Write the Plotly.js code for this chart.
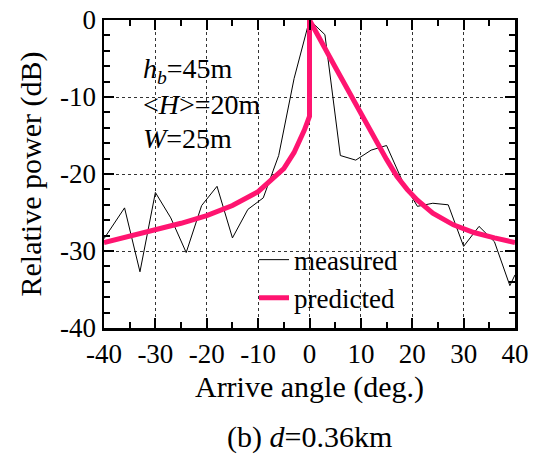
<!DOCTYPE html>
<html>
<head>
<meta charset="utf-8">
<script src="https://cdn.plot.ly/plotly-3.0.1.min.js"></script>
<style>html,body{margin:0;padding:0;background:#fff;}#chart{width:539px;height:454px;}</style>
</head>
<body>
<div id="chart"></div>
<script>
var measuredAngle = [-40,-36,-33,-30,-27,-24,-21,-18,-15,-12,-9,-6,-3,0,3,6,9,12,15,18,21,24,27,30,33,36,39,40];
var measuredPower = [-28.4,-24.4,-32.7,-22.4,-25.7,-30.2,-24.1,-21.6,-28.3,-24.6,-23.1,-17.6,-7.6,0,-1.9,-17.6,-18.2,-16.9,-16.3,-20.8,-24.2,-23.8,-24.0,-29.4,-26.8,-28.8,-34.5,-33.1];
var predictedAngle = [-40,-35,-30,-25,-20,-15,-10,-7,-5,-3,-2,-1,0,0,5,10,15,17,19,21,24,28,32,36,40];
var predictedPower = [-28.9,-28.1,-27.3,-26.4,-25.4,-24.1,-22.3,-20.6,-19.3,-17.2,-15.8,-14.3,-12.5,0,-6.1,-12.2,-18.1,-20.3,-22.0,-23.4,-25.1,-26.6,-27.6,-28.3,-28.9];
var xTicks = [-40,-30,-20,-10,0,10,20,30,40];
var yTicks = [0,-10,-20,-30,-40];

var FONT = '"Liberation Serif", "Times New Roman", serif';
var axisCommon = {
  showline: true, linecolor: '#000', linewidth: 2.5, mirror: 'allticks',
  ticks: 'inside', ticklen: 10, tickwidth: 2, tickcolor: '#000',
  showgrid: true, gridcolor: '#333', gridwidth: 1, griddash: 'dot',
  zeroline: false,
  tickfont: {family: FONT, size: 27, color: '#000'}
};

var traces = [
  {x: measuredAngle, y: measuredPower, type: 'scatter', mode: 'lines', name: 'measured',
   line: {color: '#000', width: 1}, legendgroup: 'a'},
  {x: predictedAngle, y: predictedPower, type: 'scatter', mode: 'lines', name: 'predicted',
   line: {color: '#ff1470', width: 5}, legendgroup: 'b'}
];

var layout = {
  width: 539, height: 454,
  margin: {l: 103.5, r: 24, t: 20, b: 126},
  paper_bgcolor: '#fff', plot_bgcolor: '#fff',
  font: {family: FONT, size: 26, color: '#000'},
  showlegend: true,
  legend: {x: 0.365, y: 0.3, xanchor: 'left', yanchor: 'top', bgcolor: 'rgba(0,0,0,0)',
    font: {family: FONT, size: 27, color: '#000'}, tracegroupgap: 0},
  xaxis: Object.assign({}, axisCommon, {
    range: [-40, 40], tickvals: xTicks, ticktext: xTicks.map(String),
    minor: {dtick: 5, ticks: 'inside', ticklen: 6, tickwidth: 2, tickcolor: '#000', showgrid: false},
    title: {text: 'Arrive angle (deg.)', font: {family: FONT, size: 30, color: '#000'}, standoff: 8}
  }),
  yaxis: Object.assign({}, axisCommon, {
    range: [-40, 0], tickvals: yTicks, ticktext: yTicks.map(String),
    minor: {dtick: 2, ticks: 'inside', ticklen: 6, tickwidth: 2, tickcolor: '#000', showgrid: false},
    title: {text: 'Relative power (dB)', font: {family: FONT, size: 30, color: '#000'}, standoff: 10}
  }),
  annotations: [
    {xref: 'paper', yref: 'paper', x: 0.09, y: 0.835, xanchor: 'left', yanchor: 'middle', showarrow: false,
     text: '<i>h</i><sub><i>b</i></sub>=45m', font: {family: FONT, size: 28, color: '#000'}},
    {xref: 'paper', yref: 'paper', x: 0.09, y: 0.725, xanchor: 'left', yanchor: 'middle', showarrow: false,
     text: '&lt;<i>H</i>&gt;=20m', font: {family: FONT, size: 28, color: '#000'}},
    {xref: 'paper', yref: 'paper', x: 0.09, y: 0.615, xanchor: 'left', yanchor: 'middle', showarrow: false,
     text: '<i>W</i>=25m', font: {family: FONT, size: 28, color: '#000'}},
    {xref: 'paper', yref: 'paper', x: 0.5, y: -0.355, xanchor: 'center', yanchor: 'middle', showarrow: false,
     text: '(b) <i>d</i>=0.36km', font: {family: FONT, size: 30, color: '#000'}}
  ]
};

Plotly.newPlot('chart', traces, layout, {staticPlot: true, displayModeBar: false});
</script>
</body>
</html>
